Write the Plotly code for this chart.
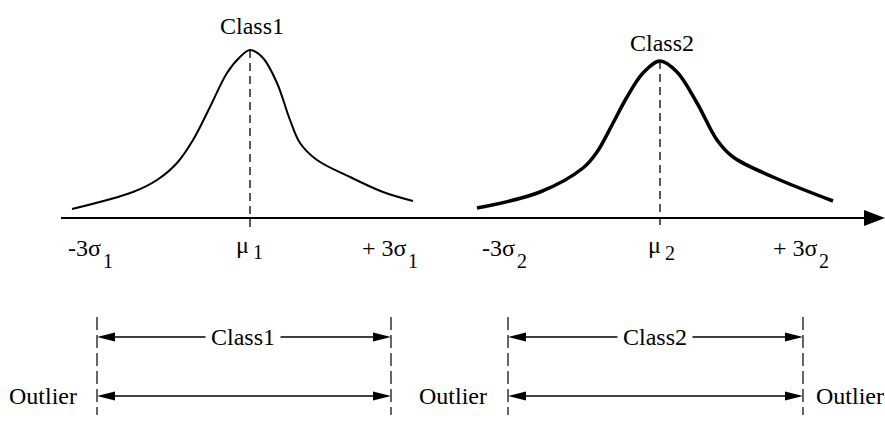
import plotly.graph_objects as go

W, H = 885, 422
FONT = "Liberation Serif"
FS = 24

# ---- curve samples (diagram coordinates: x to the right, y downward) ----
curve1_x = [72, 133, 157, 177, 193, 210, 227, 240, 250, 263, 277, 290, 300, 317, 350, 383, 413]
curve1_y = [209, 192, 180, 163, 140, 107, 73, 57, 50, 58, 83, 120, 143, 160, 177, 192, 201]
curve2_x = [477, 540, 583, 597, 612, 627, 643, 660, 677, 697, 717, 733, 773, 833]
curve2_y = [208, 192, 168, 152, 125, 97, 73, 61, 72, 103, 140, 157, 177, 201]

# ---- axis ----
axis_y = 218
axis_x0, axis_x1 = 61, 885
axis_arrow_len, axis_arrow_half = 21, 8

# ---- means ----
mean_x = [250, 660]
mean_top = [50, 61]
mean_bottom = 227

# ---- peak labels ----
peak_labels = ["Class1", "Class2"]
peak_label_x = [252, 662]
peak_label_y = [26, 43]

# ---- axis tick labels: main part and subscript ----
tick_main = ["-3σ", "μ", "+ 3σ", "-3σ", "μ", "+ 3σ"]
tick_main_x = [84, 242, 384, 498, 654, 795]
tick_main_y = [248, 245, 248, 248, 245, 248]
tick_sub = ["1", "1", "1", "2", "2", "2"]
tick_sub_x = [108, 258, 413, 522, 670, 824]
tick_sub_y = [261, 252, 261, 261, 253, 261]

# ---- range brackets ----
bracket_left = [97, 508]
bracket_right = [391, 803]
bracket_top, bracket_bottom = 317, 415
row1_y, row2_y = 337, 396
bracket_labels = ["Class1", "Class2"]
bracket_label_x = [243, 655]
arrow_len, arrow_half = 18, 4.5

outlier_x = [43, 453, 850]
outlier_y = 396

fig = go.Figure()

# curves
fig.add_trace(go.Scatter(x=curve1_x, y=curve1_y, mode="lines",
                         line=dict(color="black", width=2, shape="spline", smoothing=1.0),
                         hoverinfo="skip"))
fig.add_trace(go.Scatter(x=curve2_x, y=curve2_y, mode="lines",
                         line=dict(color="black", width=3.5, shape="spline", smoothing=1.0),
                         hoverinfo="skip"))

shapes = []


def tri(tip_x, y, direction, length, half):
    bx = tip_x - direction * length
    return dict(type="path", xref="x", yref="y",
                path=f"M {tip_x},{y} L {bx},{y - half} L {bx},{y + half} Z",
                fillcolor="black", line=dict(color="black", width=0))


# main axis with arrow
shapes.append(dict(type="line", xref="x", yref="y", x0=axis_x0, x1=axis_x1 - axis_arrow_len + 2,
                   y0=axis_y, y1=axis_y, line=dict(color="black", width=2)))
shapes.append(tri(axis_x1, axis_y, 1, axis_arrow_len, axis_arrow_half))

# mean dashed lines
for mx, mt in zip(mean_x, mean_top):
    shapes.append(dict(type="line", xref="x", yref="y", x0=mx, x1=mx, y0=mt, y1=mean_bottom,
                       line=dict(color="black", width=1.3, dash="8px,5px")))

# brackets
for xl, xr in zip(bracket_left, bracket_right):
    for bx in (xl, xr):
        shapes.append(dict(type="line", xref="x", yref="y", x0=bx, x1=bx,
                           y0=bracket_top, y1=bracket_bottom,
                           line=dict(color="black", width=1.2, dash="13px,5px")))
    for ry in (row1_y, row2_y):
        shapes.append(dict(type="line", xref="x", yref="y", x0=xl + 4, x1=xr - 4,
                           y0=ry, y1=ry, line=dict(color="black", width=1.5)))
        shapes.append(tri(xl, ry, -1, arrow_len, arrow_half))
        shapes.append(tri(xr, ry, 1, arrow_len, arrow_half))

annotations = []


def txt(t, x, y, size=FS, bg=None, pad=1):
    d = dict(text=t, x=x, y=y, xref="x", yref="y", showarrow=False,
             xanchor="center", yanchor="middle",
             font=dict(family=FONT, size=size, color="black"))
    if bg:
        d["bgcolor"] = bg
        d["borderpad"] = pad
    return d


for t, x, y in zip(peak_labels, peak_label_x, peak_label_y):
    annotations.append(txt(t, x, y))
for t, x, y in zip(tick_main, tick_main_x, tick_main_y):
    annotations.append(txt(t, x, y))
for t, x, y in zip(tick_sub, tick_sub_x, tick_sub_y):
    annotations.append(txt(t, x, y, size=20))
for t, x in zip(bracket_labels, bracket_label_x):
    annotations.append(txt(t, x, row1_y, bg="white", pad=5))
for x in outlier_x:
    annotations.append(txt("Outlier", x, outlier_y))

fig.update_layout(
    width=W, height=H,
    margin=dict(l=0, r=0, t=0, b=0),
    paper_bgcolor="white", plot_bgcolor="white",
    showlegend=False,
    hovermode=False,
    shapes=shapes, annotations=annotations,
    xaxis=dict(range=[0, W], visible=False, fixedrange=True),
    yaxis=dict(range=[H, 0], visible=False, fixedrange=True),
)

# remove the page's default body margin so the figure fills the window exactly
fig.write_html(
    "out.html",
    config={"displayModeBar": False, "staticPlot": True},
    post_script="document.body.style.margin='0';"
                "document.documentElement.style.overflow='hidden';"
                "document.body.style.overflow='hidden';",
)
